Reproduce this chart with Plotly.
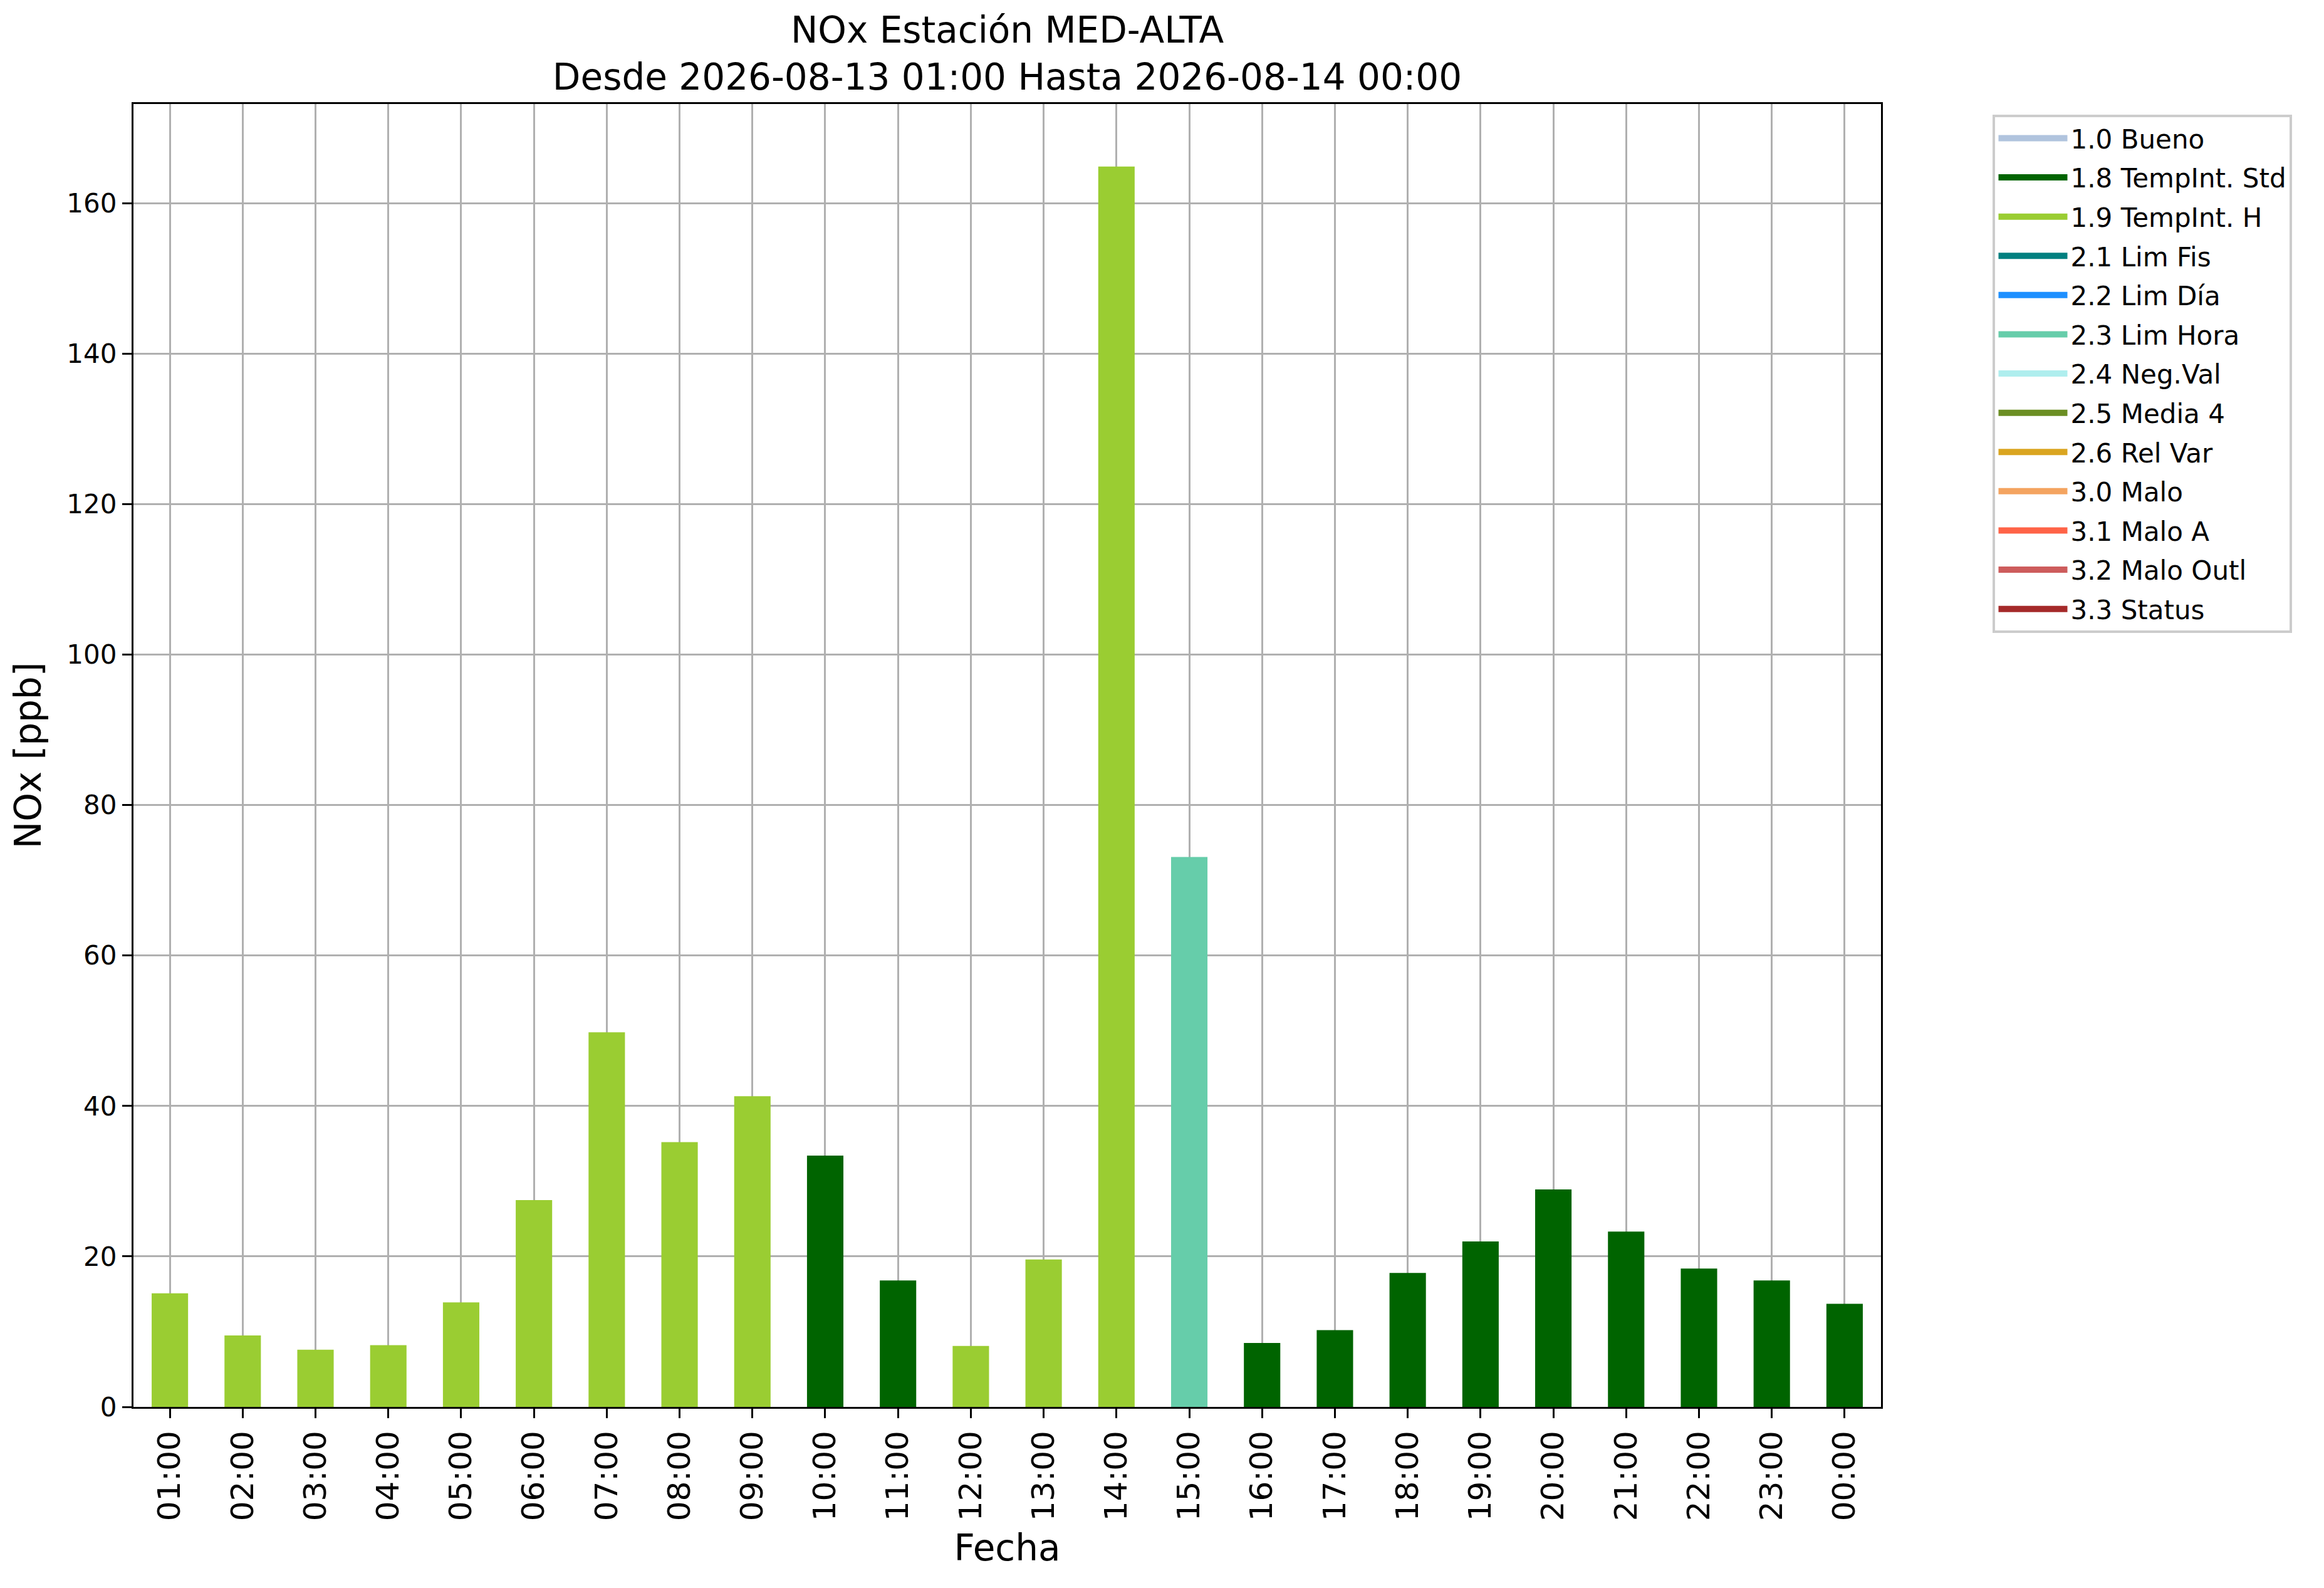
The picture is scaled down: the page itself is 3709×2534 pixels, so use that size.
import plotly.graph_objects as go

# hourly NOx values and their validation flag
hours = ["01:00", "02:00", "03:00", "04:00", "05:00", "06:00", "07:00", "08:00",
         "09:00", "10:00", "11:00", "12:00", "13:00", "14:00", "15:00", "16:00",
         "17:00", "18:00", "19:00", "20:00", "21:00", "22:00", "23:00", "00:00"]
nox = [15.1, 9.5, 7.6, 8.2, 13.9, 27.5, 49.8, 35.2,
       41.3, 33.4, 16.8, 8.1, 19.6, 164.9, 73.1, 8.5,
       10.2, 17.8, 22.0, 28.9, 23.3, 18.4, 16.8, 13.7]
flags = ["1.9", "1.9", "1.9", "1.9", "1.9", "1.9", "1.9", "1.9",
         "1.9", "1.8", "1.8", "1.9", "1.9", "1.9", "2.3", "1.8",
         "1.8", "1.8", "1.8", "1.8", "1.8", "1.8", "1.8", "1.8"]

flag_codes = ["1.0", "1.8", "1.9", "2.1", "2.2", "2.3", "2.4", "2.5", "2.6",
              "3.0", "3.1", "3.2", "3.3"]
flag_names = ["1.0 Bueno", "1.8 TempInt. Std", "1.9 TempInt. H", "2.1 Lim Fis",
              "2.2 Lim Día", "2.3 Lim Hora", "2.4 Neg.Val", "2.5 Media 4",
              "2.6 Rel Var", "3.0 Malo", "3.1 Malo A", "3.2 Malo Outl", "3.3 Status"]
flag_colors = ["#B0C4DE", "#006400", "#9ACD32", "#008080", "#1E90FF", "#66CDAA",
               "#AFEEEE", "#6B8E23", "#DAA520", "#F4A460", "#FF6347", "#CD5C5C",
               "#A52A2A"]

# the page body has an 8px margin, the figure is sized to sit inside it
W, H = 3709 - 16, 2534 - 16
FONT = "DejaVu Sans"

fig = go.Figure()
for code, name, color in zip(flag_codes, flag_names, flag_colors):
    xs = [h for h, f in zip(hours, flags) if f == code]
    ys = [v for v, f in zip(nox, flags) if f == code]
    if xs:
        fig.add_trace(go.Bar(
            x=xs, y=ys, name=name, width=0.5, legendgroup=code, showlegend=False,
            marker=dict(color=color, line=dict(width=0)),
        ))
    # legend entry drawn as a thick line, closer to the wide patches of the original
    fig.add_trace(go.Scatter(
        x=[None], y=[None], mode="lines", name=name, legendgroup=code,
        line=dict(color=color, width=18), hoverinfo="skip",
    ))

axis_common = dict(
    showline=True, linecolor="black", linewidth=3.3, mirror=True,
    ticks="outside", ticklen=15, tickwidth=3.3, tickcolor="black",
    showgrid=True, gridcolor="#b0b0b0", gridwidth=3.3,
    zeroline=False,
)

fig.update_layout(
    width=W, height=H,
    barmode="overlay",
    plot_bgcolor="white", paper_bgcolor="white",
    font=dict(family=FONT, color="black"),
    margin=dict(l=205, r=W - 2994, t=158, b=H - 2237),
    title=dict(
        text="NOx Estación MED-ALTA<br>Desde 2026-08-13 01:00 Hasta 2026-08-14 00:00",
        x=0.5, xref="paper", xanchor="center",
        y=1 - 60 / H, yref="container", yanchor="top",
        font=dict(size=58, family=FONT),
    ),
    xaxis=dict(
        **axis_common,
        type="category", categoryorder="array", categoryarray=hours,
        range=[-0.5, 23.5], tickangle=-90,
        tickfont=dict(size=50, family=FONT),
        title=dict(text="Fecha", font=dict(size=58, family=FONT), standoff=24),
    ),
    yaxis=dict(
        **axis_common,
        range=[0, 173.2], dtick=20,
        tickfont=dict(size=42, family=FONT),
        title=dict(text="NOx [ppb]", font=dict(size=58, family=FONT), standoff=22),
    ),
    legend=dict(
        x=1.064, y=0.992, xanchor="left", yanchor="top",
        font=dict(size=42, family=FONT),
        bordercolor="#cccccc", borderwidth=4, bgcolor="white",
        traceorder="grouped", tracegroupgap=5, itemwidth=110,
    ),
)

fig.write_html("out.html")
